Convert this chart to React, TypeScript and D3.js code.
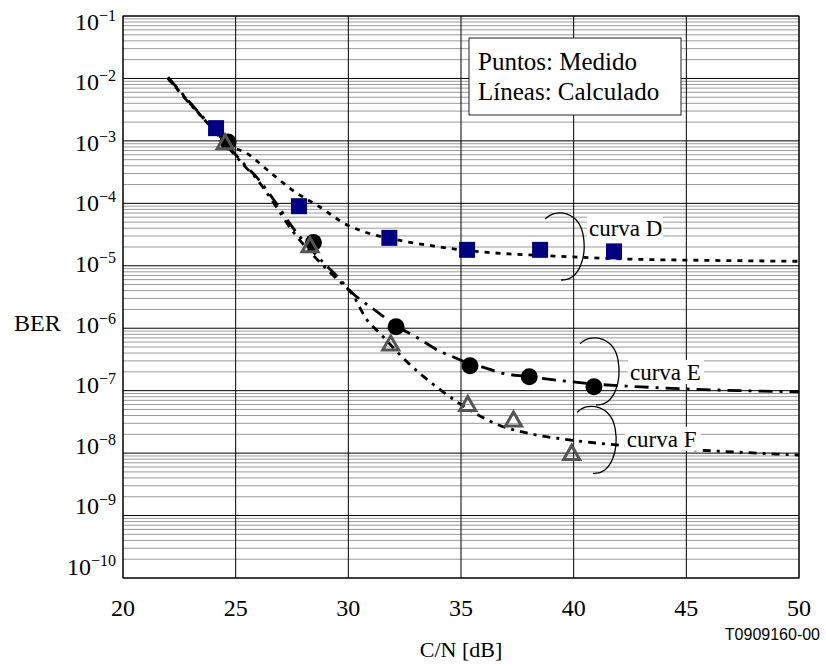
import React from 'react';
import * as d3 from 'd3';

const xTicks = [20, 25, 30, 35, 40, 45, 50];
const yExponents = [-1, -2, -3, -4, -5, -6, -7, -8, -9, -10];

// measured points [C/N dB, BER]
const measuredD = [[24.13, 1.6e-3], [27.81, 9.0e-5], [31.82, 2.8e-5], [35.27, 1.8e-5], [38.51, 1.8e-5], [41.79, 1.7e-5]];
const measuredE = [[24.66, 9.6e-4], [28.45, 2.35e-5], [32.12, 1.06e-6], [35.4, 2.5e-7], [38.03, 1.67e-7], [40.9, 1.16e-7]];
const measuredF = [[24.53, 9.3e-4], [28.3, 2.1e-5], [31.88, 5.6e-7], [35.3, 6.0e-8], [37.33, 3.4e-8], [39.91, 9.9e-9]];

// calculated curves
const calcD = [[22.0, 1.0e-2], [23.0, 3.9e-3], [24.0, 1.55e-3], [24.8, 8.3e-4], [25.5, 6.3e-4], [26.5, 3.2e-4], [27.6, 1.55e-4],
  [28.7, 8.9e-5], [30.0, 4.4e-5], [30.6, 3.6e-5], [32.4, 2.5e-5], [33.8, 2.07e-5], [35.3, 1.75e-5], [37.0, 1.56e-5],
  [39.1, 1.43e-5], [42.8, 1.27e-5], [46.0, 1.22e-5], [50.0, 1.18e-5]];
const calcE = [[22.0, 1.05e-2], [23.0, 4.0e-3], [23.8, 1.9e-3], [24.9, 6.6e-4], [25.5, 3.8e-4], [25.9, 2.7e-4], [26.8, 1.0e-4],
  [27.6, 3.8e-5], [28.6, 1.45e-5], [29.5, 6.8e-6], [30.2, 3.6e-6], [30.9, 2.3e-6], [31.4, 1.7e-6], [32.1, 1.1e-6],
  [33.0, 7.3e-7], [34.1, 4.2e-7], [34.8, 3.3e-7], [35.4, 2.65e-7], [36.1, 2.3e-7], [36.7, 1.95e-7], [38.0, 1.68e-7],
  [39.5, 1.44e-7], [40.9, 1.28e-7], [43.0, 1.15e-7], [47.4, 1.0e-7], [50.0, 9.6e-8]];
const calcF = [[22.0, 1.0e-2], [23.0, 3.8e-3], [23.8, 1.85e-3], [24.9, 6.3e-4], [25.5, 3.6e-4], [25.8, 2.8e-4], [26.7, 1.0e-4],
  [27.5, 3.7e-5], [28.5, 1.4e-5], [29.4, 6.6e-6], [30.2, 3.4e-6], [30.8, 1.4e-6], [31.4, 8.3e-7], [32.6, 2.9e-7],
  [34.2, 9.6e-8], [35.55, 4.5e-8], [36.7, 2.8e-8], [38.2, 2.0e-8], [39.7, 1.65e-8], [41.9, 1.35e-8], [45.5, 1.12e-8],
  [50.0, 9.3e-9]];

const curveLabels = [
  { text: 'curva D', x: 40.68, y: 3.0e-5, bx: 39.62, by: 2.0e-5 },
  { text: 'curva E', x: 42.5, y: 1.48e-7, bx: 41.17, by: 2.0e-7 },
  { text: 'curva F', x: 42.36, y: 1.26e-8, bx: 41.04, by: 1.6e-8 },
];

const legendLines = ['Puntos: Medido', 'Líneas: Calculado'];

const W = 826;
const H = 666;
const margin = { top: 16, right: 27, bottom: 88, left: 123 };
const serif = '"Liberation Serif", "Times New Roman", serif';

export default function App() {
  const x = d3.scaleLinear().domain([20, 50]).range([margin.left, W - margin.right]);
  const y = d3.scaleLog().domain([1e-1, 1e-10]).range([margin.top, H - margin.bottom]);
  // tick labels in the original sit on a slightly tighter spacing than the grid
  const yLabel = d3.scaleLinear().domain([-1, -10]).range([29.5, 575]);

  const minor: number[] = [];
  yExponents.slice(1).forEach((e) => {
    for (let m = 2; m <= 9; m++) minor.push(m * Math.pow(10, e));
  });

  const line = d3.line<number[]>()
    .x((d) => x(d[0]))
    .y((d) => y(d[1]))
    .curve(d3.curveMonotoneX);

  const x0 = x(20), x1 = x(50), y0 = y(1e-1), y1 = y(1e-10);

  const bracket = (cx: number, cy: number) =>
    `M${cx - 20},${cy - 28} C${cx - 8},${cy - 40} ${cx + 14},${cy - 34} ${cx + 18},${cy - 12} ` +
    `C${cx + 22},${cy + 10} ${cx + 14},${cy + 34} ${cx - 4},${cy + 33}`;

  const tri = (cx: number, cy: number) => `M${cx - 8},${cy + 6} L${cx + 8},${cy + 6} L${cx},${cy - 8} Z`;

  return (
    <svg width={W} height={H} style={{ position: 'absolute', left: 0, top: 0, background: '#fff' }}>
      {/* minor grid */}
      <g stroke="#9a9a9a" strokeWidth={1}>
        {minor.map((v, i) => (
          <line key={i} x1={x0} x2={x1} y1={y(v)} y2={y(v)} />
        ))}
      </g>
      {/* major grid */}
      <g stroke="#000" strokeWidth={1}>
        {yExponents.map((e) => (
          <line key={e} x1={x0} x2={x1} y1={y(Math.pow(10, e))} y2={y(Math.pow(10, e))} />
        ))}
        {xTicks.map((t) => (
          <line key={t} x1={x(t)} x2={x(t)} y1={y0} y2={y1} />
        ))}
        <rect x={x0} y={y0} width={x1 - x0} height={y1 - y0} fill="none" />
      </g>

      {/* calculated curves */}
      <g fill="none" stroke="#000" strokeWidth={2.8}>
        <path d={line(calcD) || ''} strokeDasharray="5,6" />
        <path d={line(calcE) || ''} strokeDasharray="14,7,3,7" />
        <path d={line(calcF) || ''} strokeDasharray="8,6,3,6" />
      </g>

      {/* measured points */}
      {measuredD.map((d, i) => (
        <rect key={'d' + i} x={x(d[0]) - 8} y={y(d[1]) - 8} width={16} height={16} fill="#000080" />
      ))}
      {measuredE.map((d, i) => (
        <circle key={'e' + i} cx={x(d[0])} cy={y(d[1])} r={8.5} fill="#000" />
      ))}
      {measuredF.map((d, i) => (
        <path key={'f' + i} d={tri(x(d[0]), y(d[1]))} fill="none" stroke="#555" strokeWidth={3} strokeLinejoin="miter" />
      ))}

      {/* curve labels and brackets */}
      {curveLabels.map((c) => (
        <g key={c.text}>
          <path d={bracket(x(c.bx), y(c.by))} fill="none" stroke="#000" strokeWidth={1.3} />
          <rect x={x(c.x) - 2} y={y(c.y) - 20} width={76} height={24} fill="#fff" />
          <text x={x(c.x)} y={y(c.y)} fontFamily={serif} fontSize={23}>{c.text}</text>
        </g>
      ))}

      {/* legend */}
      <rect x={469} y={38} width={212} height={77} fill="#fff" stroke="#222" strokeWidth={1} />
      {legendLines.map((t, i) => (
        <text key={t} x={478} y={70 + i * 30} fontFamily={serif} fontSize={25}>{t}</text>
      ))}

      {/* y tick labels */}
      {yExponents.map((e) => (
        <text key={e} x={116} y={yLabel(e)} textAnchor="end" fontFamily={serif} fontSize={24}>
          10<tspan fontSize={16} dy={-9}>{'\u2212' + Math.abs(e)}</tspan>
        </text>
      ))}
      <text x={14} y={331} fontFamily={serif} fontSize={24}>BER</text>

      {/* x tick labels */}
      {xTicks.map((t) => (
        <text key={t} x={x(t)} y={616} textAnchor="middle" fontFamily={serif} fontSize={24}>{t}</text>
      ))}
      <text x={(x0 + x1) / 2} y={657} textAnchor="middle" fontFamily={serif} fontSize={22}>C/N [dB]</text>
      <text x={820} y={640} textAnchor="end" fontFamily='"Liberation Sans", Arial, sans-serif' fontSize={16}>T0909160-00</text>
    </svg>
  );
}
